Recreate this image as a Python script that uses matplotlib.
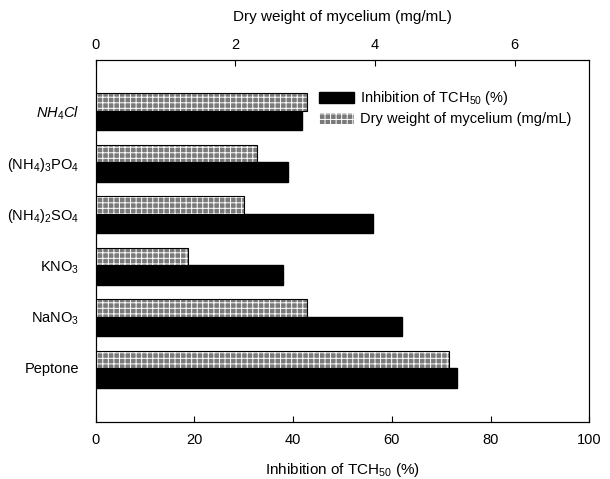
import numpy as np
import matplotlib
matplotlib.use('Agg')
import matplotlib.pyplot as plt
from matplotlib.patches import Patch

plt.rcParams['font.family'] = ['Liberation Sans', 'DejaVu Sans']
plt.rcParams['mathtext.fontset'] = 'custom'
plt.rcParams['mathtext.rm'] = 'Liberation Sans'
plt.rcParams['mathtext.it'] = 'Liberation Sans:italic'
plt.rcParams['hatch.linewidth'] = 0.7

sources = [r'$NH_4Cl$', r'$\mathrm{(NH_4)_3PO_4}$', r'$\mathrm{(NH_4)_2SO_4}$',
           r'$\mathrm{KNO_3}$', r'$\mathrm{NaNO_3}$', 'Peptone']
inhibition = [41.8, 39.0, 56.2, 37.9, 62.1, 73.2]
dry_weight = [3.02, 2.31, 2.12, 1.32, 3.02, 5.06]

y = np.arange(len(sources))
grey = '#7a7a7a'

fig = plt.figure(figsize=(6.1, 4.79), dpi=100)
ax = fig.add_axes([0.157, 0.119, 0.809, 0.756])
ax2 = ax.twiny()

# black bars on the bottom axis (inhibition)
ax.barh(y, inhibition, height=0.38, align='edge', color='black', edgecolor='black')
# hatched grey bars on the top axis (dry weight)
ax2.barh(y - 0.34, dry_weight, height=0.34, align='edge', color=grey,
         edgecolor='white', hatch='+++', linewidth=0)
ax2.barh(y - 0.34, dry_weight, height=0.34, align='edge', fill=False,
         edgecolor='black', linewidth=0.8)

ax.set_xlim(0, 100)
ax2.set_xlim(0, 7.07)
ax.set_ylim(6.05, -0.99)

ax.set_yticks(y)
ax.set_yticklabels(sources, fontsize=10.5)
ax.tick_params(axis='y', length=0, pad=12)
ax.set_xticks([0, 20, 40, 60, 80, 100])
ax.tick_params(axis='x', direction='in', length=4, labelsize=10.5, pad=8)
ax2.set_xticks([0, 2, 4, 6])
ax2.tick_params(axis='x', direction='in', length=4, labelsize=10.5, pad=6)

ax.set_xlabel('Inhibition of TCH$_{50}$ (%)', fontsize=11, labelpad=10)
ax2.set_xlabel('Dry weight of mycelium (mg/mL)', fontsize=11, labelpad=12)

handles = [Patch(facecolor='black', edgecolor='black'),
           Patch(facecolor=grey, edgecolor='white', hatch='+++', linewidth=0)]
labels = ['Inhibition of TCH$_{50}$ (%)', 'Dry weight of mycelium (mg/mL)']
ax.legend(handles, labels, loc='upper left', bbox_to_anchor=(0.44, 0.935),
          frameon=False, fontsize=10.5, handlelength=2.4, handleheight=0.8,
          handletextpad=0.45, labelspacing=0.35, borderaxespad=0)

fig.savefig('out.png', dpi=100)
